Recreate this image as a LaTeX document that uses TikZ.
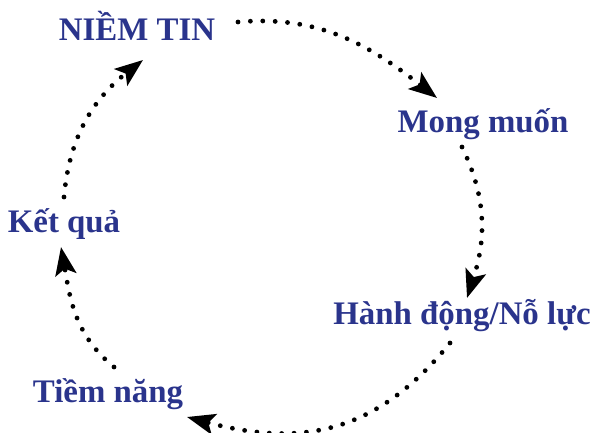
\documentclass[tikz,border=0pt]{standalone}
\usepackage{fontspec}
\setmainfont{Liberation Serif}
\usepackage{xcolor}
\definecolor{labelblue}{RGB}{42, 52, 140}
\usetikzlibrary{arrows.meta}

\begin{document}
\begin{tikzpicture}[
    x=1bp, y=1bp,
    stage/.style={
        anchor=base,
        inner sep=0pt,
        text=labelblue,
        font=\fontsize{33}{38}\selectfont\bfseries
    },
    flow/.style={
        line width=4.8bp,
        line cap=round,
        dash pattern=on 0bp off 12.4bp,
        -{Stealth[length=28bp,width=21bp,inset=6bp]}
    }
]
    \useasboundingbox (0,0) rectangle (600,433);

    % Stages
    \node[stage] (belief) at (137,392) {NIỀM TIN};
    \node[stage] (desire) at (483,300) {Mong muốn};
    \node[stage] (action) at (462,108) {Hành động/Nỗ lực};
    \node[stage] (potential) at (108,30) {Tiềm năng};
    \node[stage] (result) at (64,200) {Kết quả};

    % Ends of the arrows
    \coordinate (b1) at (238,411);
    \coordinate (b2) at (437,335);
    \coordinate (d1) at (462,286);
    \coordinate (d2) at (467,135);
    \coordinate (a1) at (450,90);
    \coordinate (a2) at (187,16);
    \coordinate (p1) at (114,66);
    \coordinate (p2) at (61,186);
    \coordinate (r1) at (64,236);
    \coordinate (r2) at (143,373);

    % Arrows
    \draw[flow] (b1) to[out=5, in=142] (b2);
    \draw[flow] (d1) to[out=-64, in=72] (d2);
    \draw[flow] (a1) to[out=231, in=-15, looseness=1.1] (a2);
    \draw[flow] (p1) to[out=141, in=-80] (p2);
    \draw[flow] (r1) to[out=85, in=218] (r2);
\end{tikzpicture}
\end{document}
